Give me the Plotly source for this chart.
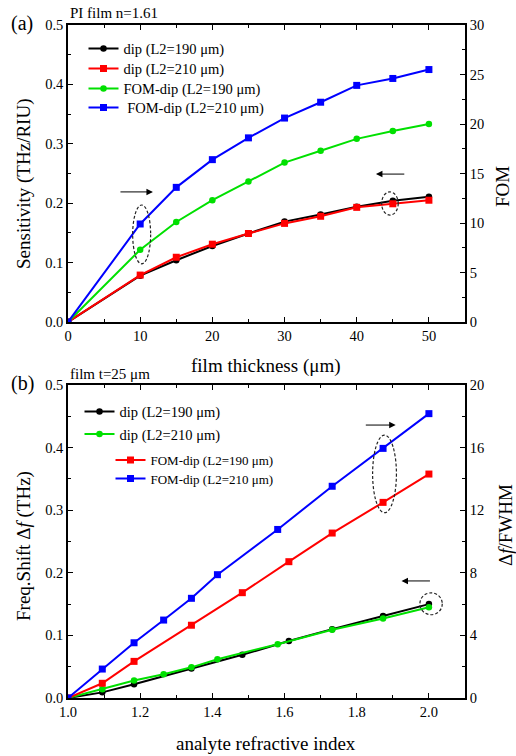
import plotly.graph_objects as go

# ---- (a) PI film, sweep of film thickness ----
thickness = [0, 10, 15, 20, 25, 30, 35, 40, 45, 50]
sens_190 = [0, 0.078, 0.104, 0.128, 0.149, 0.169, 0.181, 0.194, 0.204, 0.211]
sens_210 = [0, 0.079, 0.109, 0.131, 0.149, 0.166, 0.178, 0.193, 0.199, 0.205]
fom_190 = [0, 7.3, 10.1, 12.3, 14.2, 16.1, 17.3, 18.5, 19.3, 20.0]
fom_210 = [0, 9.9, 13.6, 16.4, 18.6, 20.6, 22.2, 23.9, 24.6, 25.5]

# ---- (b) film t=25 um, sweep of analyte refractive index ----
n_190 = [1.0, 1.095, 1.183, 1.342, 1.483, 1.612, 1.732, 1.873, 2.0]
n_210 = [1.0, 1.095, 1.183, 1.265, 1.342, 1.414, 1.581, 1.732, 1.873, 2.0]
shift_190 = [0, 0.009, 0.022, 0.047, 0.069, 0.091, 0.110, 0.131, 0.150]
shift_210 = [0, 0.014, 0.028, 0.038, 0.049, 0.062, 0.086, 0.109, 0.127, 0.145]
ratio_190 = [0, 0.94, 2.34, 4.65, 6.73, 8.71, 10.54, 12.5, 14.31]
ratio_210 = [0, 1.85, 3.53, 4.98, 6.37, 7.88, 10.77, 13.53, 15.95, 18.17]

labels_a = ["dip (L2=190 μm)", "dip (L2=210 μm)",
            "FOM-dip (L2=190 μm)", " FOM-dip (L2=210 μm)"]
labels_b = ["dip (L2=190 μm)", "dip (L2=210 μm)",
            "FOM-dip (L2=190 μm)", "FOM-dip (L2=210 μm)"]

BLACK, RED, GREEN, BLUE = "#000000", "#ff0000", "#00e000", "#0000ff"
FONT = "Liberation Serif, Times New Roman, serif"
W, H = 516, 756


def px_x(p):
    return p / W


def px_y(p):
    return 1 - p / H


fig = go.Figure()


def add(x, y, color, symbol, size, name, xa, ya, leg):
    fig.add_trace(go.Scatter(
        x=x, y=y, mode="lines+markers", name=name,
        line=dict(color=color, width=2),
        marker=dict(symbol=symbol, size=size, color=color),
        xaxis=xa, yaxis=ya, legend=leg, showlegend=True))


# panel (a)
add(thickness, sens_190, BLACK, "circle", 6.5, labels_a[0], "x", "y", "legend")
add(thickness, sens_210, RED, "square", 7, labels_a[1], "x", "y", "legend2")
add(thickness, fom_190, GREEN, "circle", 6.5, labels_a[2], "x", "y2", "legend3")
add(thickness, fom_210, BLUE, "square", 7, labels_a[3], "x", "y2", "legend4")
# panel (b)
add(n_190, shift_190, BLACK, "circle", 6.5, labels_b[0], "x2", "y3", "legend5")
add(n_210, shift_210, GREEN, "circle", 6.5, labels_b[1], "x2", "y3", "legend6")
add(n_190, ratio_190, RED, "square", 7, labels_b[2], "x2", "y4", "legend7")
add(n_210, ratio_210, BLUE, "square", 7, labels_b[3], "x2", "y4", "legend8")

tickfont = dict(family=FONT, size=14.5, color="black")
common = dict(showline=True, linecolor="black", linewidth=1.5, automargin=False,
              ticks="inside", ticklen=5, tickwidth=1.2, tickcolor="black",
              showgrid=False, zeroline=False, tickfont=tickfont)

dom_x = [px_x(68), px_x(465)]
dom_a = [px_y(322), px_y(25)]
dom_b = [px_y(698), px_y(385)]

layout = dict(
    width=W, height=H, margin=dict(l=0, r=0, t=0, b=0, autoexpand=False),
    paper_bgcolor="white", plot_bgcolor="white",
    font=dict(family=FONT, color="black"),
    xaxis=dict(domain=dom_x, anchor="y", range=[0, 55], dtick=10, tick0=0,
               mirror="ticks",
               minor=dict(dtick=5, ticks="inside", ticklen=3, tickcolor="black"),
               **common),
    yaxis=dict(domain=dom_a, anchor="x", range=[0, 0.5], dtick=0.1,
               tickformat=".1f",
               minor=dict(dtick=0.05, ticks="inside", ticklen=3, tickcolor="black"),
               **common),
    yaxis2=dict(overlaying="y", anchor="x", side="right", range=[0, 30], dtick=5,
                minor=dict(dtick=2.5, ticks="inside", ticklen=3, tickcolor="black"),
                **common),
    xaxis2=dict(domain=dom_x, anchor="y3", range=[1.0, 2.1], dtick=0.2, tick0=1.0,
                tickformat=".1f", mirror="ticks",
                minor=dict(dtick=0.1, ticks="inside", ticklen=3, tickcolor="black"),
                **common),
    yaxis3=dict(domain=dom_b, anchor="x2", range=[0, 0.5], dtick=0.1,
                tickformat=".1f",
                minor=dict(dtick=0.05, ticks="inside", ticklen=3, tickcolor="black"),
                **common),
    yaxis4=dict(overlaying="y3", anchor="x2", side="right", range=[0, 20], dtick=4,
                minor=dict(dtick=2, ticks="inside", ticklen=3, tickcolor="black"),
                **common),
)

# one legend box per entry so that each row sits where it belongs
legend_rows = [
    ("legend", 83.5, 48.5, 14.5), ("legend2", 83.5, 68.5, 14.5),
    ("legend3", 83.5, 88.5, 14.5), ("legend4", 83.5, 107.5, 14.5),
    ("legend5", 79.5, 411.5, 14.5), ("legend6", 79.5, 434, 14.5),
    ("legend7", 110.5, 460, 13), ("legend8", 110.5, 478.5, 13),
]
for key, lx, ly, fs in legend_rows:
    layout[key] = dict(x=px_x(lx), y=px_y(ly), xanchor="left", yanchor="middle",
                       bgcolor="rgba(0,0,0,0)", borderwidth=0,
                       font=dict(family=FONT, size=fs, color="black"),
                       itemsizing="trace")

fig.update_layout(**layout)


def note(x, y, text, size, angle=0):
    fig.add_annotation(xref="paper", yref="paper", x=px_x(x), y=px_y(y), text=text,
                       showarrow=False, xanchor="center", yanchor="middle",
                       textangle=angle,
                       font=dict(family=FONT, size=size, color="black"))


# axis titles
note(24, 184, "Sensitivity (THz/RIU)", 19, -90)
note(503, 187, "FOM", 19, -90)
note(266, 366, "film thickness (μm)", 19)
note(24, 546, "Freq.Shift Δ<i>f</i> (THz)", 19, -90)
note(505, 525, "Δ<i>f</i>/FWHM", 19, -90)
note(266, 743, "analyte refractive index", 19)

# panel labels and condition notes
note(22, 23, "(a)", 20)
note(22, 383, "(b)", 20)
note(114, 13, "PI film n=1.61", 15)
note(110, 374, "film t=25 μm", 15)

# dashed ellipses grouping the curves, and arrows to the matching axis
ellipses = [
    ("x", "y", 8.96, 11.45, 0.098, 0.197),
    ("x", "y", 43.45, 45.75, 0.180, 0.219),
    ("x2", "y3", 1.844, 1.910, 0.296, 0.420),
    ("x2", "y3", 1.975, 2.037, 0.133, 0.168),
]
for xr, yr, x0, x1, y0, y1 in ellipses:
    fig.add_shape(type="circle", xref=xr, yref=yr, x0=x0, x1=x1, y0=y0, y1=y1,
                  line=dict(color="#222222", width=1.2, dash="3px,2px"))

arrows = [
    ("x", "y", 7.06, 11.77, 0.219),
    ("x", "y", 46.8, 42.66, 0.249),
    ("x2", "y3", 1.821, 1.908, 0.436),
    ("x2", "y3", 2.007, 1.924, 0.187),
]
for xr, yr, xt, xh, yv in arrows:
    fig.add_annotation(xref=xr, yref=yr, axref=xr, ayref=yr, x=xh, y=yv, ax=xt, ay=yv,
                       text="", showarrow=True, arrowhead=2, arrowsize=1.3,
                       arrowwidth=1, arrowcolor="black")

fig.write_html("out.html")
